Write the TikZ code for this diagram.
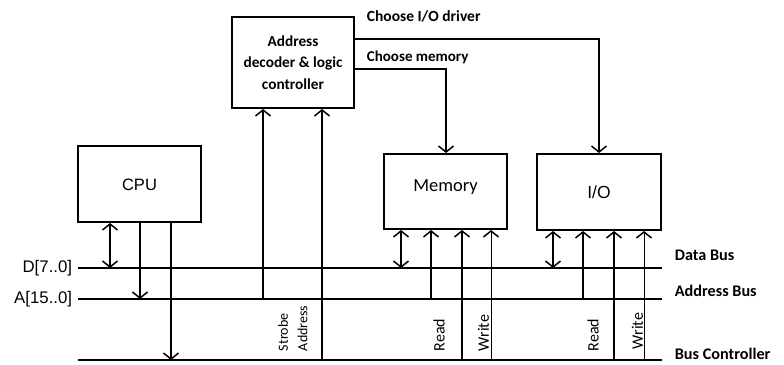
\documentclass[tikz,border=0pt]{standalone}
\usepackage{fontspec}
\setmainfont{Carlito}
\newfontfamily\arialf{Liberation Sans}
\usetikzlibrary{arrows.meta}
\begin{document}
\begin{tikzpicture}[x=1pt,y=-1pt,line width=1.8pt,
  box/.style={draw,rectangle,inner sep=0pt,line width=2pt},
  tip/.style={-{Straight Barb[length=6pt,width=15pt,line width=1.5pt]}},
  dbl/.style={{Straight Barb[length=6pt,width=15pt,line width=1.5pt]}-{Straight Barb[length=6pt,width=15pt,line width=1.5pt]}},
  thin/.style={line width=1pt},
  lab/.style={inner sep=0pt,font=\fontsize{16.2}{20}\selectfont\bfseries,anchor=west},
  sig/.style={inner sep=0pt,rotate=90,anchor=west,font=\fontsize{16}{18}\selectfont},
  sigs/.style={inner sep=0pt,rotate=90,anchor=west,font=\fontsize{14}{16}\selectfont}]
\useasboundingbox (0,0) rectangle (784,364);
% boxes
\node[box,minimum width=123pt,minimum height=76pt] (cpu) at (139.5,184) {};
\node[font=\arialf\fontsize{16.5}{18}\selectfont] (cput) at (139.5,185) {CPU};
\node[box,minimum width=122pt,minimum height=91pt,align=center,
      font=\fontsize{15.3}{21.5}\selectfont\bfseries] (dec) at (293,62.5)
      {Address\\decoder \& logic\\controller};
\node[box,minimum width=123pt,minimum height=75pt] (mem) at (445.5,191.5) {};
\node[font=\fontsize{18.5}{20}\selectfont] (memt) at (445.5,187) {Memory};
\node[box,minimum width=124pt,minimum height=76pt] (io) at (599,192) {};
\node[font=\arialf\fontsize{17.5}{18}\selectfont] (iot) at (599,192) {I/O};
% buses
\coordinate (d0) at (78,268); \coordinate (d1) at (662,268);
\coordinate (a0) at (78,299); \coordinate (a1) at (662,299);
\coordinate (c0) at (78,360); \coordinate (c1) at (662,360);
\draw (d0) -- (d1);
\draw (a0) -- (a1);
\draw (c0) -- (c1);
\node[inner sep=0pt,anchor=east,font=\arialf\fontsize{16.8}{18}\selectfont] (dl) at (73,268) {D[7..0]};
\node[inner sep=0pt,anchor=east,font=\arialf\fontsize{16.8}{18}\selectfont] (al) at (73,299) {A[15..0]};
\node[lab] (dbl) at (674,255) {Data Bus};
\node[lab] (abl) at (674,291) {Address Bus};
\node[lab] (cbl) at (674,354) {Bus Controller};
% CPU connections
\coordinate (x1) at (110,0); \coordinate (x2) at (140,0); \coordinate (x3) at (171,0);
\draw[dbl] (cpu.south -| x1) -- (x1 |- d0);
\draw[tip] (cpu.south -| x2) -- (x2 |- a0);
\draw[tip] (cpu.south -| x3) -- (x3 |- c0);
% decoder inputs
\coordinate (x4) at (263,0); \coordinate (x5) at (322,0);
\draw[tip] (x4 |- a0) -- (dec.south -| x4);
\draw[tip] (x5 |- c0) -- (dec.south -| x5);
\node[sigs] (strobe) at (283,352) {Strobe};
\node[sigs] (addr) at (302.5,352) {Address};
% decoder outputs
\coordinate (ci) at (599,39); \coordinate (cm) at (446,69);
\draw[tip] (dec.east |- ci) -- (ci) -- (ci |- io.north);
\draw[tip] (dec.east |- cm) -- (cm) -- (cm |- mem.north);
\node[inner sep=0pt,anchor=west,font=\fontsize{15.5}{18}\selectfont\bfseries] (cit) at (366,16) {Choose I/O driver};
\node[inner sep=0pt,anchor=west,font=\fontsize{15}{18}\selectfont\bfseries] (cmt) at (366,57) {Choose memory};
% memory connections
\coordinate (m1) at (401,0); \coordinate (m2) at (431,0); \coordinate (m3) at (462,0); \coordinate (m4) at (491,0);
\draw[dbl] (mem.south -| m1) -- (m1 |- d0);
\draw[tip] (m2 |- a0) -- (mem.south -| m2);
\draw[tip] (m3 |- c0) -- (mem.south -| m3);
\draw[tip,thin] (m4 |- c0) -- (mem.south -| m4);
\node[sig] (mr) at (439,352) {Read};
\node[sig] (mw) at (483.5,352) {Write};
% I/O connections
\coordinate (i1) at (553,0); \coordinate (i2) at (583,0); \coordinate (i3) at (614,0); \coordinate (i4) at (644,0);
\draw[dbl] (io.south -| i1) -- (i1 |- d0);
\draw[tip] (i2 |- a0) -- (io.south -| i2);
\draw[tip] (i3 |- c0) -- (io.south -| i3);
\draw[tip,thin] (i4 |- c0) -- (io.south -| i4);
\node[sig] (ir) at (593,352) {Read};
\node[sig] (iw) at (637.5,350) {Write};
\end{tikzpicture}
\end{document}
